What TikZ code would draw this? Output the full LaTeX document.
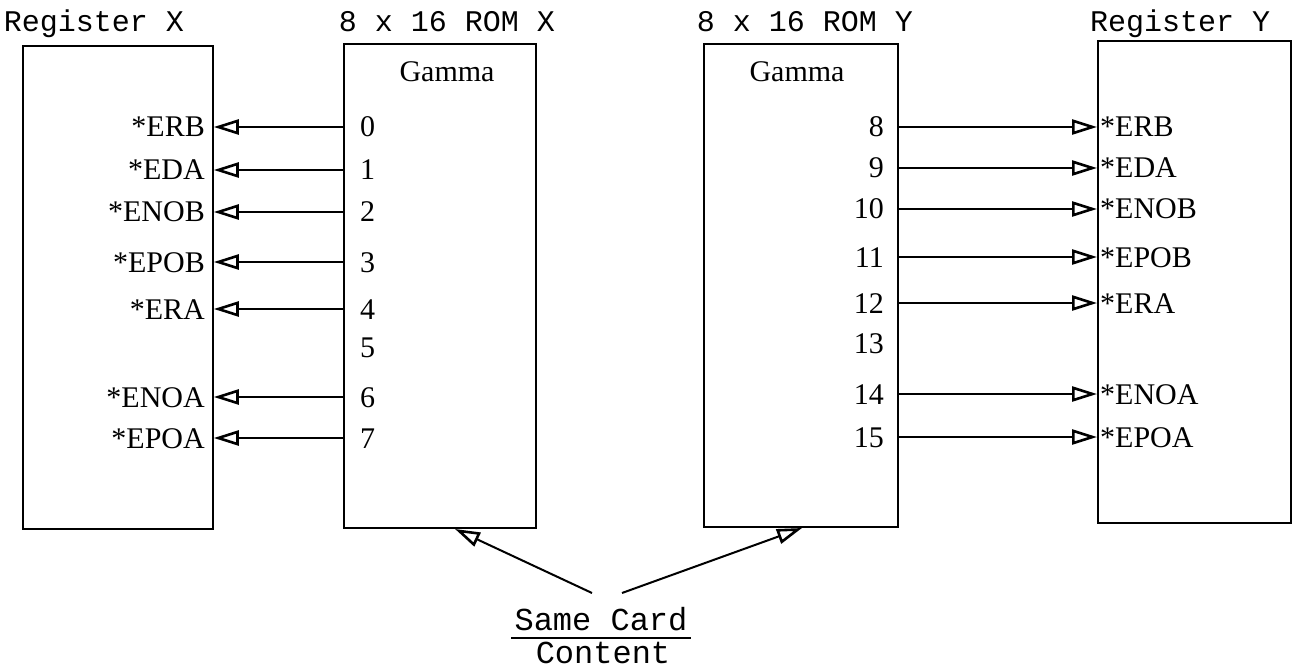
\documentclass[tikz,border=0pt]{standalone}
\usepackage{fontspec}
\setmainfont{Liberation Serif}
\newfontfamily\typefont{Liberation Mono}
\usetikzlibrary{arrows.meta,calc}
\begin{document}
\begin{tikzpicture}[x=1pt,y=-1pt,
  box/.style={draw, line width=1.8pt, rectangle, inner sep=0pt, anchor=north west},
  title/.style={font=\typefont\fontsize{30}{32}\selectfont, inner sep=0pt, text height=20pt, text depth=0pt},
  lab/.style={font=\fontsize{30}{32}\selectfont, inner sep=0pt, text height=20pt, text depth=0pt},
  arr/.style={line width=2pt, -{Triangle[open,length=25pt,width=15pt,line width=2.6pt]}},
  bigtext/.style={font=\typefont\fontsize{32}{34}\selectfont, inner sep=0pt, text height=20pt, text depth=0pt},
]
\useasboundingbox (0,0) rectangle (1305,668);

% boxes
\node[box, minimum width=190pt, minimum height=483pt] (rx) at (22,45) {};
\node[box, minimum width=192pt, minimum height=484pt] (romx) at (343,43) {};
\node[box, minimum width=194pt, minimum height=483pt] (romy) at (703,43) {};
\node[box, minimum width=193pt, minimum height=482pt] (ry) at (1097,40) {};

% titles
\node[title] (trx) at (94,22) {Register X};
\node[title] (tromx) at (447,22) {8 x 16 ROM X};
\node[title] (tromy) at (805,22) {8 x 16 ROM Y};
\node[title] (try) at (1180,22) {Register Y};

% Gamma
\node[lab] (gx) at (447,72) {Gamma};
\node[lab] (gy) at (797,72) {Gamma};

% left side rows
\foreach \i/\y/\t in {0/127/*ERB, 1/170/*EDA, 2/212/*ENOB, 3/262/*EPOB, 4/309/*ERA, 6/397/*ENOA, 7/438/*EPOA}{
  \node[lab, anchor=west] (n\i) at (360,\y) {\i};
  \node[lab, anchor=east] (l\i) at (205,\y) {\t};
  \draw[arr] (romx.west |- n\i) -- (rx.east |- n\i);
}
\node[lab, anchor=west] (n5) at (360,347) {5};

% right side rows
\foreach \i/\y/\t in {8/127/*ERB, 9/168/*EDA, 10/209/*ENOB, 11/257/*EPOB, 12/303/*ERA, 14/394/*ENOA, 15/437/*EPOA}{
  \node[lab, anchor=east] (n\i) at (884,\y) {\i};
  \node[lab, anchor=west] (l\i) at (1100,\y) {\t};
  \draw[arr] (romy.east |- n\i) -- (ry.west |- n\i);
}
\node[lab, anchor=east] (n13) at (884,343) {13};

% Same Card Content
\node[bigtext] (same) at (601,620) {Same Card};
\node[bigtext] (cont) at (603,653) {Content};
\draw[line width=1.6pt] ($(same.west)+(-3,18)$) -- ($(same.east)+(3,18)$);

\coordinate (s1) at (592,593);
\coordinate (s2) at (622,593);
\coordinate (e1) at (455,529);
\coordinate (e2) at (802,528);
\draw[arr] (s1) -- (e1);
\draw[arr] (s2) -- (e2);
\end{tikzpicture}
\end{document}
